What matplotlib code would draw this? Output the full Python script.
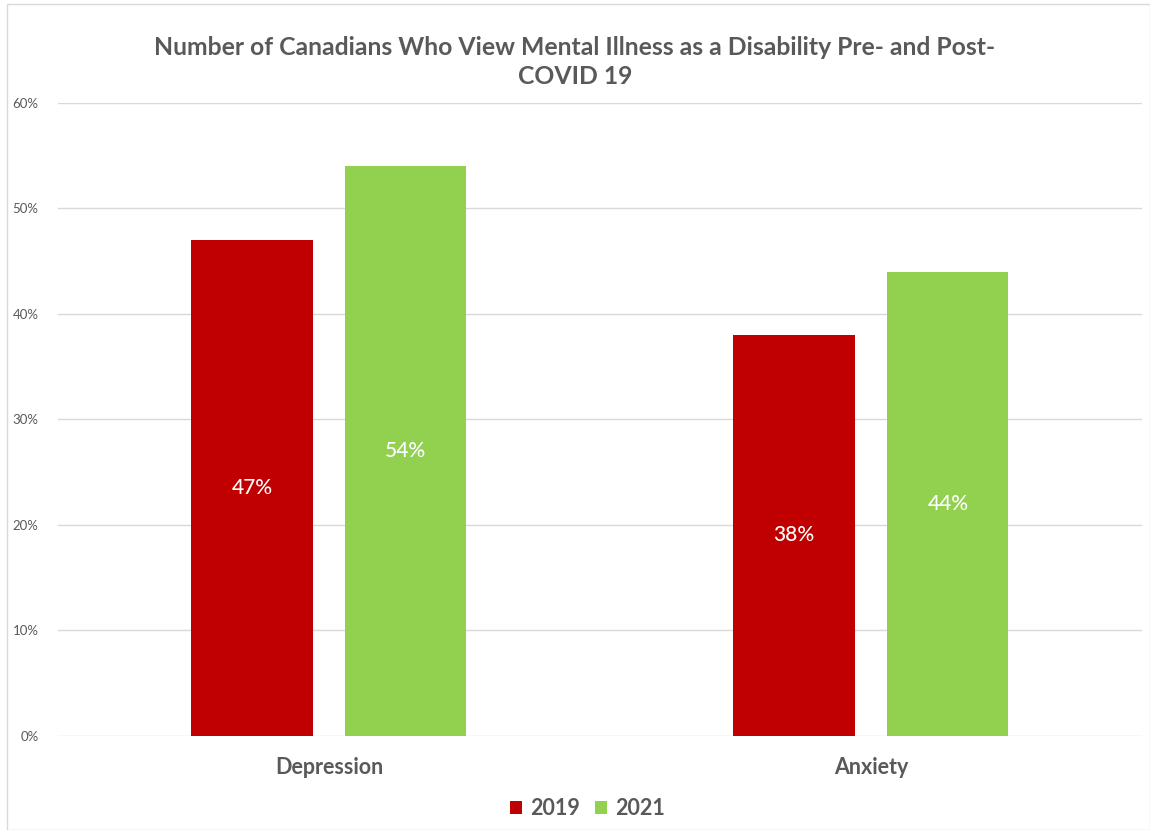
import numpy as np
import matplotlib.pyplot as plt
from matplotlib.patches import Rectangle

plt.rcParams["font.family"] = ["Lato", "DejaVu Sans"]

categories = ["Depression", "Anxiety"]
years = ["2019", "2021"]
values_2019 = [47, 38]
values_2021 = [54, 44]
colors = ["#C00000", "#92D050"]
text_grey = "#595959"

fig = plt.figure(figsize=(11.5, 8.3), dpi=100)
fig.patches.append(Rectangle((0.006, 0.0), 0.994, 0.995, transform=fig.transFigure,
                             fill=False, edgecolor="#d9d9d9", linewidth=1))
ax = fig.add_axes([0.0504, 0.1133, 0.9426, 0.7627])

x = np.arange(len(categories))
width = 0.2233
offset = 0.142
for i, (vals, year) in enumerate(zip([values_2019, values_2021], years)):
    pos = x + (i - 0.5) * 2 * offset
    bars = ax.bar(pos, vals, width, color=colors[i], label=year, zorder=3)
    for b, v in zip(bars, vals):
        ax.text(b.get_x() + b.get_width() / 2, v / 2, f"{v}%", ha="center", va="center",
                color="white", fontsize=15, fontweight="medium", zorder=4)

ax.set_xlim(-0.5, 1.5)
ax.set_ylim(0, 60)
ax.set_yticks(range(0, 61, 10))
ax.set_yticklabels([f"{t}%" for t in range(0, 61, 10)], fontsize=9.5, color=text_grey)
ax.set_xticks(x)
ax.set_xticklabels(categories, fontsize=15.5, fontweight="bold", color=text_grey)
ax.tick_params(axis="both", length=0)
ax.tick_params(axis="y", pad=14)
ax.tick_params(axis="x", pad=15)
ax.grid(axis="y", color="#d9d9d9", linewidth=1, zorder=0)
for s in ax.spines.values():
    s.set_visible(False)

fig.text(0.5, 0.925, "Number of Canadians Who View Mental Illness as a Disability Pre- and Post-\nCOVID 19",
         ha="center", va="center", fontsize=17.8, fontweight="bold", color=text_grey, linespacing=1.3)

leg = fig.legend(loc="center", bbox_to_anchor=(0.511, 0.026), ncol=2, frameon=False,
                 prop={"size": 15.5, "weight": "bold"}, handlelength=0.56, handleheight=0.56,
                 handletextpad=0.37, columnspacing=0.7)
for t in leg.get_texts():
    t.set_color(text_grey)

fig.savefig("out.png", dpi=100)
